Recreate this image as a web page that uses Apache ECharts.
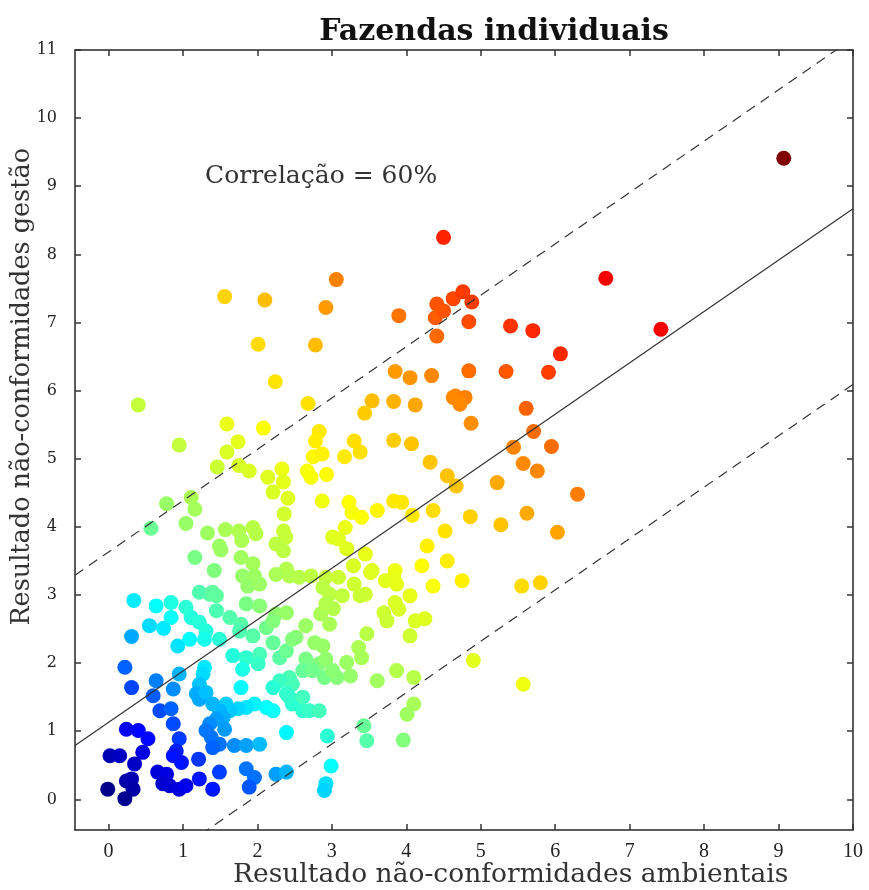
<!DOCTYPE html>
<html>
<head>
<meta charset="utf-8">
<script src="https://cdn.jsdelivr.net/npm/echarts@6/dist/echarts.min.js"></script>
<style>
  html, body { margin: 0; padding: 0; background: #fff; }
  #chart { width: 869px; height: 890px; }
</style>
</head>
<body>
<div id="chart"></div>
<script>
// environmental non-conformity score of each farm (x)
const ambiental = [
  1.56, 2.10, 2.92, 3.06, 4.50, 4.41, 4.63, 4.76, 4.88, 3.90, 9.07, 6.68, 7.42, 4.39, 4.50, 4.84, 4.41, 5.40, 5.70, 6.07,
  3.85, 4.05, 4.34, 4.84, 5.34, 5.91, 4.66, 4.75, 4.63, 4.79, 4.72, 5.61, 4.87, 3.54, 3.44, 3.83, 4.12, 5.71, 5.44, 5.95,
  5.57, 5.76, 5.22, 6.30, 5.62, 5.27, 6.03, 4.86, 4.52, 4.28, 4.55, 4.21, 4.36, 4.08, 3.83, 3.94, 3.61, 3.23, 3.27, 3.40,
  3.18, 3.09, 4.32, 4.55, 4.67, 4.07, 3.83, 3.30, 3.38, 3.17, 3.45, 3.20, 3.54, 3.29, 3.85, 2.01, 2.78, 2.24, 0.40, 2.68,
  1.59, 2.08, 2.83, 2.78, 1.74, 0.95, 1.59, 2.75, 2.87, 1.46, 1.75, 1.89, 2.33, 2.67, 2.72, 2.93, 2.14, 2.35, 2.21, 2.41,
  2.87, 1.11, 0.78, 1.16, 2.36, 1.04, 0.57, 1.33, 1.57, 1.75, 1.94, 1.98, 1.79, 2.35, 2.38, 2.25, 2.35, 3.01, 1.49, 1.51,
  1.16, 1.78, 1.94, 1.42, 2.39, 1.80, 1.96, 2.25, 2.43, 2.56, 2.72, 2.92, 1.87, 2.03, 2.88, 2.97, 1.36, 1.45, 0.34, 0.64,
  0.84, 1.04, 0.84, 0.55, 0.74, 1.11, 1.22, 1.45, 1.85, 2.03, 1.78, 1.31, 1.09, 1.29, 1.49, 0.93, 0.31, 0.22, 0.31, 1.67,
  1.85, 2.03, 2.01, 1.80, 1.78, 2.21, 2.30, 2.52, 2.77, 2.39, 2.65, 2.61, 2.83, 2.90, 2.74, 2.43, 2.47, 2.30, 2.21, 2.39,
  2.47, 2.61, 2.70, 2.12, 2.21, 1.96, 1.85, 1.74, 1.63, 1.58, 1.29, 1.27, 1.22, 1.18, 1.22, 1.31, 1.40, 1.49, 1.54, 1.45,
  1.36, 1.31, 1.38, 1.49, 1.40, 1.56, 0.95, 0.87, 0.64, 0.60, 0.69, 0.84, 0.87, 0.95, 0.91, 0.87, 0.24, 0.40, 0.53, 0.46,
  0.35, 0.02, 0.15, 0.24, 0.31, -0.01, 0.33, 0.22, 0.66, 0.78, 0.73, 0.82, 0.95, 1.04, 1.22, 1.21, 1.49, 1.40, 0.98, 1.69,
  1.85, 2.03, 1.85, 1.96, 1.89, 2.25, 2.39, 2.39, 2.94, 2.99, 2.92, 2.90, 1.22, 1.40, 4.75, 5.55, 5.80, 4.36, 4.05, 3.83,
  3.72, 3.87, 3.52, 3.09, 3.30, 3.45, 3.14, 3.38, 3.70, 3.74, 3.85, 3.90, 4.12, 4.25, 4.05, 3.47, 3.36, 3.40, 3.20, 3.25,
  3.07, 3.61, 3.87, 4.10, 4.90, 5.57, 4.10, 4.01, 3.43, 3.47, 3.96, 3.02, 2.25, 2.39, 2.65, 2.85, 2.92, 2.97, 2.47, 2.88,
  2.92, 3.01, 1.63, 1.76, 1.94, 2.12, 2.21, 2.43, 2.61, 2.83
];

// management non-conformity score of each farm (y)
const gestao = [
  7.38, 7.33, 7.22, 7.63, 8.25, 7.27, 7.35, 7.45, 7.30, 7.10, 9.41, 7.65, 6.90, 7.07, 7.17, 7.01, 6.80, 6.95, 6.88, 6.54,
  6.28, 6.19, 6.22, 6.29, 6.28, 6.27, 5.92, 5.88, 5.90, 5.90, 5.80, 5.74, 5.52, 5.85, 5.67, 5.84, 5.79, 5.40, 5.17, 5.18,
  4.93, 4.82, 4.65, 4.48, 4.20, 4.03, 3.92, 4.15, 3.94, 3.72, 3.50, 3.43, 4.24, 4.17, 4.38, 4.36, 4.24, 4.36, 4.21, 4.14,
  3.99, 3.82, 4.95, 4.75, 4.60, 5.22, 5.27, 5.26, 5.10, 5.03, 3.60, 3.68, 3.36, 3.43, 3.36, 6.68, 6.67, 6.13, 5.79, 5.81,
  5.51, 5.45, 5.40, 5.26, 5.25, 5.20, 5.10, 5.03, 5.07, 4.88, 4.90, 4.82, 4.85, 4.82, 4.73, 4.77, 4.73, 4.66, 4.51, 4.42,
  4.38, 4.43, 4.34, 4.26, 4.19, 4.05, 3.98, 3.91, 3.96, 3.94, 3.99, 3.90, 3.80, 3.94, 3.85, 3.75, 3.65, 3.85, 3.72, 3.66,
  3.55, 3.55, 3.46, 3.36, 3.38, 3.28, 3.28, 3.30, 3.28, 3.26, 3.28, 3.26, 3.13, 3.16, 3.11, 3.01, 3.01, 2.99, 2.92, 2.84,
  2.89, 2.82, 2.67, 2.55, 2.51, 2.67, 2.60, 2.77, 2.87, 2.84, 2.57, 2.47, 2.35, 2.35, 2.35, 2.25, 2.39, 1.94, 1.64, 2.11,
  2.08, 2.13, 1.99, 1.91, 1.64, 2.30, 2.08, 2.38, 2.30, 2.18, 2.06, 1.89, 1.99, 1.79, 1.89, 1.79, 1.69, 1.74, 1.64, 1.55,
  1.40, 1.30, 1.30, 1.35, 1.30, 1.40, 1.35, 1.33, 1.30, 1.40, 1.94, 1.84, 1.69, 1.55, 1.47, 1.57, 1.40, 1.30, 1.20, 1.18,
  1.11, 1.01, 0.91, 0.81, 0.76, 1.03, 1.84, 1.62, 1.74, 1.52, 1.30, 1.33, 1.11, 0.89, 0.71, 0.64, 1.03, 1.01, 0.89, 0.69,
  0.52, 0.64, 0.64, 0.27, 0.30, 0.15, 0.15, 0.01, 0.40, 0.37, 0.23, 0.20, 0.15, 0.20, 0.30, 0.59, 0.40, 0.15, 0.54, 0.79,
  0.79, 0.81, 0.45, 0.32, 0.18, 0.37, 0.40, 0.98, 0.93, 0.49, 0.23, 0.13, 3.04, 3.04, 3.21, 3.13, 3.18, 3.13, 2.99, 3.26,
  3.21, 3.16, 3.33, 3.26, 3.16, 3.01, 2.99, 2.99, 2.74, 2.62, 2.89, 2.79, 2.62, 2.65, 2.40, 2.43, 2.23, 2.08, 2.01, 1.81,
  1.79, 1.74, 1.89, 1.79, 2.04, 1.69, 1.40, 1.25, 1.08, 0.86, 0.87, 2.80, 2.72, 2.74, 2.55, 2.72, 2.87, 2.57, 2.35, 2.25,
  2.06, 1.89, 2.67, 2.47, 2.40, 2.52, 2.62, 1.50, 1.50, 1.30
];

// regression line and band: [intercept, slope]
const fitLine = [1.13, 0.754];
const upperBand = [3.63, 0.754];
const lowerBand = [-1.45, 0.754];

const xTicks = [0, 1, 2, 3, 4, 5, 6, 7, 8, 9, 10];
const yTicks = [0, 1, 2, 3, 4, 5, 6, 7, 8, 9, 10, 11];
const xMin = -0.45, xMax = 10, yMin = -0.45, yMax = 11;

// colour scale: knots mapping (x + y) to a position on the jet map
const colorKnots = [[0, 0], [1, 0.08], [2, 0.2], [3, 0.33], [4, 0.43], [5, 0.52], [6, 0.56],
  [7, 0.6], [8, 0.64], [9, 0.67], [10.5, 0.74], [12.7, 0.84], [14.3, 0.88], [18.5, 1]];

function knotPos(s) {
  for (let i = 1; i < colorKnots.length; i++) {
    const a = colorKnots[i - 1], b = colorKnots[i];
    if (s <= b[0]) return a[1] + (b[1] - a[1]) * (s - a[0]) / (b[0] - a[0]);
  }
  return 1;
}

function jet(t) {
  const c = v => Math.round(255 * Math.max(0, Math.min(1, v)));
  const r = c(1.5 - Math.abs(4 * t - 3));
  const g = c(1.5 - Math.abs(4 * t - 2));
  const b = c(1.5 - Math.abs(4 * t - 1));
  return 'rgb(' + r + ',' + g + ',' + b + ')';
}

const points = ambiental.map((x, i) => [x, gestao[i]]);

function lineData(p) {
  return [[xMin, p[0] + p[1] * xMin], [xMax, p[0] + p[1] * xMax]];
}

const serif = 'DejaVu Serif';
const frame = { onZero: false, lineStyle: { color: '#262626', width: 1.5 } };
const tick = { inside: true, length: 6, lineStyle: { color: '#333', width: 1.5 } };

const myChart = echarts.init(document.getElementById('chart'));

const option = {
  backgroundColor: '#fff',
  animation: false,
  title: {
    text: 'Fazendas individuais',
    left: 489,
    textAlign: 'center',
    top: 12,
    textStyle: { fontFamily: serif, fontWeight: 'bold', fontSize: 30, color: '#111' }
  },
  grid: { left: 75, top: 50, width: 778, height: 780 },
  xAxis: [
    {
      type: 'value', min: xMin, max: xMax, position: 'bottom',
      axisLine: frame,
      axisTick: Object.assign({ customValues: xTicks }, tick),
      axisLabel: { customValues: xTicks, margin: 12, fontFamily: 'Liberation Serif', fontSize: 20, color: '#222' },
      splitLine: { show: false }
    },
    {
      type: 'value', min: xMin, max: xMax, position: 'top',
      axisLine: frame,
      axisTick: Object.assign({ customValues: xTicks }, tick),
      axisLabel: { show: false },
      splitLine: { show: false }
    }
  ],
  yAxis: [
    {
      type: 'value', min: yMin, max: yMax, position: 'left',
      axisLine: frame,
      axisTick: Object.assign({ customValues: yTicks }, tick),
      axisLabel: { customValues: yTicks, margin: 18, fontFamily: serif, fontSize: 16, color: '#222' },
      splitLine: { show: false }
    },
    {
      type: 'value', min: yMin, max: yMax, position: 'right',
      axisLine: frame,
      axisTick: Object.assign({ customValues: yTicks }, tick),
      axisLabel: { show: false },
      splitLine: { show: false }
    }
  ],
  graphic: [
    {
      type: 'text', left: 205, top: 164,
      style: { text: 'Correlação = 60%', fontFamily: serif, fontSize: 25, fill: '#333' }
    },
    {
      type: 'text', left: 233, top: 862,
      style: { text: 'Resultado não-conformidades ambientais', fontFamily: serif, fontSize: 26.5, fill: '#333' }
    },
    {
      type: 'text', left: 9, top: 148, rotation: Math.PI / 2,
      style: { text: 'Resultado não-conformidades gestão', fontFamily: serif, fontSize: 25.5, fill: '#333' }
    }
  ],
  series: [
    {
      type: 'scatter',
      data: points,
      symbol: 'circle',
      symbolSize: 15,
      z: 2,
      itemStyle: {
        opacity: 1,
        color: function (p) {
          return jet(knotPos(p.value[0] + p.value[1]));
        }
      }
    },
    {
      type: 'line', data: lineData(fitLine), symbol: 'none', z: 3, silent: true,
      lineStyle: { color: '#333', width: 1.2 }
    },
    {
      type: 'line', data: lineData(upperBand), symbol: 'none', z: 3, silent: true,
      lineStyle: { color: '#333', width: 1.2, type: [10, 7] }
    },
    {
      type: 'line', data: lineData(lowerBand), symbol: 'none', z: 3, silent: true,
      lineStyle: { color: '#333', width: 1.2, type: [10, 7] }
    }
  ]
};

myChart.setOption(option);
</script>
</body>
</html>
